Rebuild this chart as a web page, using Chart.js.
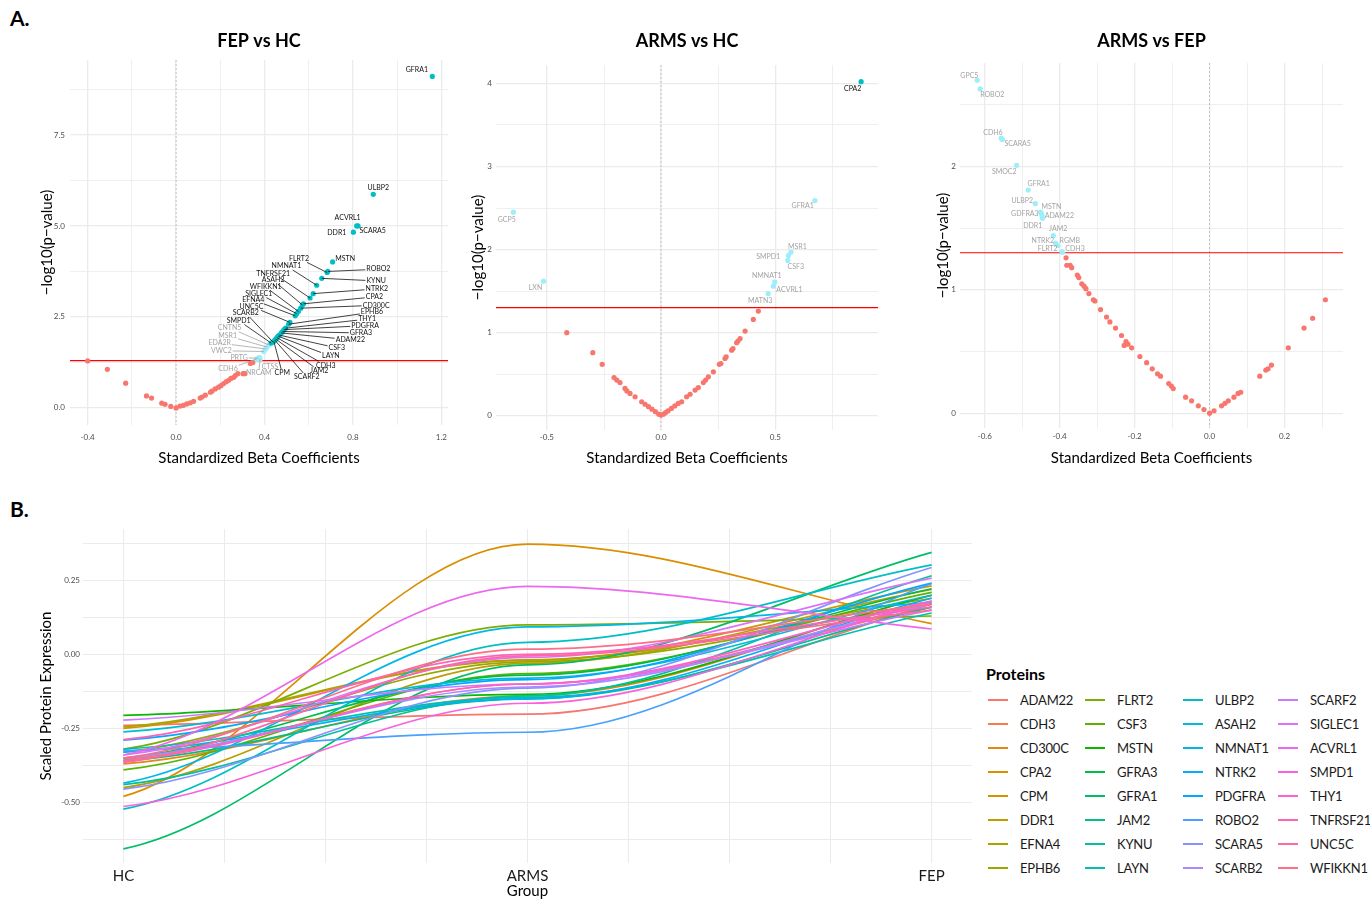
<!DOCTYPE html>
<html>
<head>
<meta charset="utf-8">
<script src="https://cdn.jsdelivr.net/npm/chart.js@4.4.1/dist/chart.umd.min.js"></script>
<style>
  body { margin: 0; background: #fff; width: 1370px; height: 900px; position: relative; overflow: hidden; font-family: Lato, sans-serif; }
  canvas { position: absolute; }
  .tag { position: absolute; font: bold 21px Lato, sans-serif; color: #000; }
  #legend { position: absolute; left: 985px; top: 662px; }
  #legend h4 { margin: 0 0 0 1px; font: bold 16px Lato, sans-serif; height: 26px; line-height: 24px; }
  #items { display: grid; grid-auto-flow: column; grid-template-rows: repeat(8, 24px); grid-template-columns: 97px 98px 95px 92px; }
  .it { display: flex; align-items: center; font: 13px Lato, sans-serif; letter-spacing: -0.2px; color: #1a1a1a; white-space: nowrap; }
  .sw { flex-shrink: 0; width: 20px; height: 2px; margin: 0 12px 0 3px; }
</style>
</head>
<body>
<div class="tag" style="left:10px;top:5px">A.</div>
<div class="tag" style="left:10px;top:496px">B.</div>
<canvas id="fepHc" width="460" height="475" style="left:0;top:0"></canvas>
<canvas id="armsHc" width="460" height="475" style="left:460px;top:0"></canvas>
<canvas id="armsFep" width="450" height="475" style="left:920px;top:0"></canvas>
<canvas id="traj" width="985" height="410" style="left:0;top:490px"></canvas>
<div id="legend"><h4>Proteins</h4><div id="items"></div></div>
<script>
// ---------- FEP vs HC ----------
const fepHcSigNames = ['GFRA1','ULBP2','ACVRL1','SCARA5','DDR1','MSTN','FLRT2','ROBO2','KYNU','NMNAT1','NTRK2','TNFRSF21',
  'CPA2','ASAH2','CD300C','WFIKKN1','SIGLEC1','EFNA4','UNC5C','EPHB6','THY1','PDGFRA','GFRA3','ADAM22','CSF3','LAYN',
  'CDH3','JAM2','SCARF2','CPM','SCARB2','SMPD1'];
const fepHcSigBeta = [1.159,0.892,0.817,0.823,0.802,0.708,0.683,0.686,0.659,0.636,0.620,0.606,
  0.576,0.571,0.564,0.553,0.545,0.539,0.515,0.509,0.495,0.488,0.482,0.476,0.467,0.462,
  0.456,0.451,0.447,0.442,0.438,0.430];
const fepHcSigP = [9.11,5.87,5.00,5.00,4.83,4.01,3.72,3.75,3.56,3.37,3.14,3.02,
  2.86,2.83,2.74,2.65,2.59,2.53,2.35,2.30,2.19,2.15,2.10,2.06,2.00,1.97,
  1.93,1.89,1.86,1.83,1.81,1.78];
const fepHcSigLabX = [1.089,0.915,0.776,0.889,0.727,0.765,0.556,0.915,0.905,0.499,0.908,0.439,
  0.897,0.439,0.905,0.405,0.374,0.349,0.341,0.886,0.864,0.855,0.836,0.788,0.727,0.700,
  0.677,0.647,0.591,0.480,0.315,0.283];
const fepHcSigLabY = [9.28,6.04,5.23,4.87,4.80,4.11,4.11,3.81,3.49,3.90,3.27,3.70,
  3.05,3.51,2.82,3.32,3.14,2.97,2.79,2.63,2.44,2.26,2.06,1.87,1.65,1.42,
  1.17,1.02,0.85,0.96,2.61,2.40];
const fepHcNomNames = ['CNTN5','MSR1','EDA2R','VWC2','PRTG','CTSS','NRCAM','CDH6'];
const fepHcNomBeta = [0.419,0.412,0.405,0.397,0.373,0.377,0.380,0.364];
const fepHcNomP = [1.73,1.67,1.62,1.55,1.37,1.39,1.34,1.34];
const fepHcNomLabX = [0.242,0.233,0.197,0.205,0.285,0.424,0.374,0.235];
const fepHcNomLabY = [2.20,1.98,1.78,1.57,1.37,1.14,0.96,1.07];
const fepHcNsBeta = [-0.400,-0.311,-0.228,-0.134,-0.111,-0.065,-0.050,-0.024,0.000,
  0.018,0.033,0.048,0.064,0.079,0.109,0.117,0.132,0.155,0.162,0.177,0.192,0.203,0.215,
  0.227,0.238,0.248,0.261,0.268,0.279,0.303,0.311,0.336,0.347];
const fepHcNsP = [1.29,1.06,0.68,0.33,0.27,0.13,0.10,0.04,0.00,
  0.05,0.07,0.11,0.14,0.18,0.27,0.30,0.35,0.43,0.46,0.52,0.57,0.61,0.67,
  0.72,0.76,0.81,0.84,0.89,0.94,0.94,0.94,1.22,1.25];

// ---------- ARMS vs HC ----------
const armsHcSigNames = ['CPA2'];
const armsHcSigBeta = [0.876];
const armsHcSigP = [4.02];
const armsHcSigLabX = [0.839];
const armsHcSigLabY = [3.93];
const armsHcNomNames = ['GFRA1','GCP5','LXN','MSR1','SMPD1','CSF3','NMNAT1','ACVRL1','MATN3'];
const armsHcNomBeta = [0.674,-0.647,-0.515,0.569,0.558,0.555,0.498,0.492,0.469];
const armsHcNomP = [2.59,2.45,1.62,1.97,1.93,1.87,1.61,1.56,1.47];
const armsHcNomLabX = [0.620,-0.676,-0.550,0.597,0.469,0.590,0.463,0.562,0.434];
const armsHcNomLabY = [2.53,2.36,1.54,2.04,1.91,1.79,1.69,1.52,1.38];
const armsHcNsBeta = [-0.413,-0.299,-0.258,-0.206,-0.194,-0.180,-0.158,-0.150,-0.136,-0.114,-0.085,-0.070,
  -0.055,-0.040,-0.025,-0.010,0.000,0.010,0.020,0.030,0.045,0.060,0.075,0.090,0.112,0.127,0.149,0.163,
  0.185,0.195,0.207,0.229,0.255,0.262,0.280,0.285,0.309,0.315,0.331,0.337,0.346,0.368,0.404,0.426];
const armsHcNsP = [1.00,0.76,0.62,0.46,0.43,0.40,0.33,0.30,0.27,0.23,0.17,0.14,
  0.11,0.08,0.05,0.02,0.01,0.02,0.04,0.06,0.09,0.12,0.15,0.17,0.23,0.26,0.31,0.34,
  0.40,0.43,0.47,0.53,0.62,0.63,0.69,0.71,0.79,0.81,0.88,0.90,0.93,1.02,1.16,1.26];

// ---------- ARMS vs FEP ----------
const armsFepNomNames = ['GPC5','ROBO2','CDH6','SCARA5','SMOC2','GFRA1','ULBP2','MSTN','GDFRA3','ADAM22',
  'DDR1','JAM2','NTRK2','RGMB','FLRT2','CDH3'];
const armsFepNomBeta = [-0.620,-0.612,-0.556,-0.553,-0.515,-0.484,-0.465,-0.451,-0.449,-0.446,
  -0.447,-0.417,-0.411,-0.405,-0.394,-0.392];
const armsFepNomP = [2.70,2.63,2.23,2.22,2.01,1.81,1.70,1.63,1.62,1.58,
  1.60,1.44,1.38,1.36,1.31,1.305];
const armsFepNomLabX = [-0.641,-0.580,-0.578,-0.512,-0.548,-0.456,-0.500,-0.422,-0.493,-0.401,
  -0.472,-0.404,-0.445,-0.373,-0.432,-0.359];
const armsFepNomLabY = [2.735,2.586,2.278,2.186,1.962,1.857,1.724,1.676,1.614,1.605,
  1.519,1.492,1.395,1.395,1.330,1.330];
const armsFepNsBeta = [-0.383,-0.381,-0.372,-0.368,-0.353,-0.349,-0.341,-0.335,-0.330,-0.322,-0.310,-0.306,
  -0.291,-0.275,-0.266,-0.251,-0.235,-0.228,-0.223,-0.218,-0.208,-0.186,-0.168,-0.153,-0.139,-0.131,
  -0.109,-0.102,-0.097,-0.064,-0.048,-0.030,-0.015,0.000,0.012,0.032,0.041,0.050,0.065,0.076,0.083,
  0.134,0.150,0.156,0.165,0.210,0.252,0.275,0.309];
const armsFepNsP = [1.26,1.20,1.20,1.18,1.12,1.10,1.05,1.03,1.01,0.97,0.92,0.91,
  0.84,0.78,0.74,0.69,0.63,0.55,0.58,0.56,0.53,0.46,0.41,0.36,0.32,0.30,
  0.24,0.22,0.20,0.13,0.10,0.06,0.03,0.00,0.02,0.06,0.08,0.10,0.13,0.16,0.17,
  0.30,0.35,0.36,0.39,0.53,0.69,0.77,0.92];

// ---------- trajectories ----------
const groups = ['HC', 'ARMS', 'FEP'];
const proteins = ['ADAM22','CDH3','CD300C','CPA2','CPM','DDR1','EFNA4','EPHB6','FLRT2','CSF3','MSTN','GFRA3',
  'GFRA1','JAM2','KYNU','LAYN','ULBP2','ASAH2','NMNAT1','NTRK2','PDGFRA','ROBO2','SCARA5','SCARB2',
  'SCARF2','SIGLEC1','ACVRL1','SMPD1','THY1','TNFRSF21','UNC5C','WFIKKN1'];
const hcExpr = [-0.240,-0.355,-0.370,-0.480,-0.250,-0.450,-0.245,-0.330,-0.320,-0.390,-0.206,-0.350,
  -0.657,-0.360,-0.440,-0.320,-0.523,-0.262,-0.435,-0.330,-0.290,-0.325,-0.455,-0.350,
  -0.222,-0.340,-0.340,-0.514,-0.360,-0.288,-0.365,-0.350];
const armsExpr = [-0.202,-0.100,-0.140,0.373,-0.020,-0.030,-0.018,-0.025,0.100,-0.065,-0.135,-0.070,
  -0.035,-0.150,-0.140,-0.145,0.041,-0.080,0.093,-0.150,-0.085,-0.263,-0.114,-0.110,
  -0.100,-0.010,0.230,-0.165,-0.100,0.000,-0.005,0.018];
const fepExpr = [0.170,0.160,0.200,0.104,0.232,0.220,0.190,0.170,0.130,0.210,0.200,0.222,
  0.345,0.160,0.266,0.140,0.303,0.200,0.175,0.190,0.241,0.240,0.294,0.170,
  0.150,0.258,0.086,0.180,0.180,0.160,0.150,0.170];

// ---------- axis ticks ----------
const fepHcXTicks = [-0.4,-0.2,0,0.2,0.4,0.6,0.8,1.0,1.2];
const fepHcXLabels = ['-0.4','','0.0','','0.4','','0.8','','1.2'];
const fepHcYTicks = [0,1.25,2.5,3.75,5,6.25,7.5,8.75];
const fepHcYLabels = ['0.0','','2.5','','5.0','','7.5',''];
const armsHcXTicks = [-0.5,-0.25,0,0.25,0.5,0.75];
const armsHcXLabels = ['-0.5','','0.0','','0.5',''];
const armsHcYTicks = [0,0.5,1,1.5,2,2.5,3,3.5,4];
const armsHcYLabels = ['0','','1','','2','','3','','4'];
const armsFepXTicks = [-0.6,-0.5,-0.4,-0.3,-0.2,-0.1,0,0.1,0.2,0.3];
const armsFepXLabels = ['-0.6','','-0.4','','-0.2','','0.0','','0.2',''];
const armsFepYTicks = [0,0.5,1,1.5,2,2.5];
const armsFepYLabels = ['0','','1','','2',''];
const trajXTicks = [1,1.25,1.5,1.75,2,2.25,2.5,2.75,3];
const trajYTicks = [-0.625,-0.5,-0.375,-0.25,-0.125,0,0.125,0.25,0.375];
const trajYLabels = ['','-0.50','','-0.25','','0.00','','0.25',''];

const pCut = -Math.log10(0.05);
const RED = '#F8766D', TEAL = '#00BFC4', PALE = '#9CEFFA';
const FONT = 'Lato';
// curve slope at each group, as a share of the adjacent segment's slope (smoother look)
const curveSlope = [0.45, 0, 1];

function pts(xs, ys) { return xs.map((v, i) => ({ x: v, y: ys[i] })); }

function hcl(h, c, l) {
  const hr = h * Math.PI / 180;
  const u = c * Math.cos(hr), v = c * Math.sin(hr);
  const Xn = 0.95047, Yn = 1, Zn = 1.08883;
  const un = 4 * Xn / (Xn + 15 * Yn + 3 * Zn), vn = 9 * Yn / (Xn + 15 * Yn + 3 * Zn);
  const Y = Yn * Math.pow((l + 16) / 116, 3);
  const up = u / (13 * l) + un, vp = v / (13 * l) + vn;
  const X = Y * 9 * up / (4 * vp), Z = Y * (12 - 3 * up - 20 * vp) / (4 * vp);
  const lin = [3.2404542 * X - 1.5371385 * Y - 0.4985314 * Z,
    -0.9692660 * X + 1.8760108 * Y + 0.0415560 * Z,
    0.0556434 * X - 0.2040259 * Y + 1.0572252 * Z];
  const rgb = lin.map(t => {
    t = t <= 0.0031308 ? 12.92 * t : 1.055 * Math.pow(t, 1 / 2.4) - 0.055;
    return Math.round(Math.min(1, Math.max(0, t)) * 255);
  });
  return 'rgb(' + rgb.join(',') + ')';
}

// dashed zero line, red p=0.05 line, repelled labels
const volcanoMarks = {
  id: 'volcanoMarks',
  beforeDatasetsDraw(chart) {
    const { ctx, chartArea: a, scales: { x, y } } = chart;
    ctx.save();
    const px = x.getPixelForValue(0);
    ctx.strokeStyle = '#b8b8b8';
    ctx.lineWidth = 0.8;
    ctx.setLineDash([2, 2]);
    ctx.beginPath(); ctx.moveTo(px, a.top); ctx.lineTo(px, a.bottom); ctx.stroke();
    ctx.setLineDash([]);
    const py = y.getPixelForValue(pCut);
    ctx.strokeStyle = '#ff0000';
    ctx.lineWidth = 1.2;
    ctx.beginPath(); ctx.moveTo(a.left, py); ctx.lineTo(a.right, py); ctx.stroke();
    ctx.restore();
  },
  afterDatasetsDraw(chart) {
    const { ctx, scales: { x, y } } = chart;
    ctx.save();
    ctx.font = '7px ' + FONT;
    ctx.textAlign = 'center';
    ctx.textBaseline = 'middle';
    chart.data.datasets.forEach((ds, di) => {
      if (!ds.names) return;
      const els = chart.getDatasetMeta(di).data;
      ds.names.forEach((name, i) => {
        const lx = x.getPixelForValue(ds.labX[i]);
        const ly = y.getPixelForValue(ds.labY[i]);
        const p = els[i];
        const hw = ctx.measureText(name).width / 2 + 1, hh = 4;
        const dx = p.x - lx, dy = p.y - ly;
        const t = Math.min(dx ? hw / Math.abs(dx) : Infinity, dy ? hh / Math.abs(dy) : Infinity);
        if (t < 1) {
          const ex = lx + dx * t, ey = ly + dy * t;
          if (Math.hypot(p.x - ex, p.y - ey) > 9) {
            ctx.strokeStyle = ds.labColor;
            ctx.lineWidth = 0.8;
            ctx.beginPath(); ctx.moveTo(ex, ey); ctx.lineTo(p.x, p.y); ctx.stroke();
          }
        }
        ctx.fillStyle = ds.labColor;
        ctx.fillText(name, lx, ly);
      });
    });
    ctx.restore();
  }
};

// reshape the bezier handles so the smooth lines flatten out at ARMS like the loess fits
const trajCurves = {
  id: 'trajCurves',
  beforeDatasetsDraw(chart) {
    chart.getSortedVisibleDatasetMetas().forEach(meta => {
      const P = meta.data, n = P.length;
      meta.dataset.updateControlPoints(chart.chartArea, 'x');
      P.forEach((p, i) => {
        const a = P[Math.max(0, i - 1)], b = P[Math.min(n - 1, i + 1)];
        const seg = i === 0 ? (b.y - p.y) / (b.x - p.x) : (p.y - a.y) / (p.x - a.x);
        const m = seg * curveSlope[i];
        const back = i > 0 ? (p.x - a.x) / 3 : 0;
        const fwd = i < n - 1 ? (b.x - p.x) / 3 : 0;
        p.cp1x = p.x - back; p.cp1y = p.y - m * back;
        p.cp2x = p.x + fwd; p.cp2y = p.y + m * fwd;
      });
    });
  }
};

function axis(ticks, labels, min, max, title) {
  return {
    type: 'linear', min: min, max: max,
    afterBuildTicks: s => { s.ticks = ticks.map(v => ({ value: v })); },
    ticks: { callback: (v, i) => labels[i], autoSkip: false, maxRotation: 0, color: '#4d4d4d', font: { family: FONT, size: 8 } },
    grid: { color: '#ebebeb', drawTicks: false, lineWidth: c => labels[c.index] ? 1.3 : 0.8 },
    border: { display: false },
    title: { display: true, text: title, color: '#000', font: { family: FONT, size: 15 }, padding: { top: 4, bottom: 4 } }
  };
}

function volcano(id, title, sets, xa, ya, geo) {
  const datasets = sets.map(s => ({
    data: s.data, backgroundColor: s.color, borderWidth: 0, pointRadius: 2.6, pointHoverRadius: 2.6,
    order: s.order, names: s.names, labX: s.labX, labY: s.labY, labColor: s.labColor
  }));
  xa.afterFit = s => { s.height = geo.xh; };
  xa.ticks.padding = geo.xpad;
  ya.afterFit = s => { s.width = geo.yw; };
  ya.ticks.padding = geo.ypad;
  new Chart(document.getElementById(id), {
    type: 'scatter',
    data: { datasets },
    options: {
      responsive: false, animation: false, devicePixelRatio: 1,
      layout: { padding: { left: geo.pl, right: geo.pr, top: 0, bottom: 4 } },
      scales: { x: xa, y: ya },
      plugins: {
        legend: { display: false }, tooltip: { enabled: false },
        title: { display: true, text: title, fullSize: false, color: '#000', font: { family: FONT, size: 18, weight: 'bold' },
          padding: { top: 30, bottom: geo.tb } }
      }
    },
    plugins: [volcanoMarks]
  });
}

const XT = 'Standardized Beta Coefficients', YT = '\u2212log10(p\u2212value)';

volcano('fepHc', 'FEP vs HC', [
  { data: pts(fepHcNsBeta, fepHcNsP), color: RED, order: 3 },
  { data: pts(fepHcNomBeta, fepHcNomP), color: PALE, order: 2, names: fepHcNomNames, labX: fepHcNomLabX, labY: fepHcNomLabY, labColor: '#a3a3a3' },
  { data: pts(fepHcSigBeta, fepHcSigP), color: TEAL, order: 1, names: fepHcSigNames, labX: fepHcSigLabX, labY: fepHcSigLabY, labColor: '#111' }
], axis(fepHcXTicks, fepHcXLabels, -0.48, 1.23, XT), axis(fepHcYTicks, fepHcYLabels, -0.47, 9.56, YT),
  { pl: 34, pr: 12, yw: 36, xh: 46, xpad: 8, ypad: 5, tb: 8.4 });

volcano('armsHc', 'ARMS vs HC', [
  { data: pts(armsHcNsBeta, armsHcNsP), color: RED, order: 3 },
  { data: pts(armsHcNomBeta, armsHcNomP), color: PALE, order: 2, names: armsHcNomNames, labX: armsHcNomLabX, labY: armsHcNomLabY, labColor: '#a3a3a3' },
  { data: pts(armsHcSigBeta, armsHcSigP), color: TEAL, order: 1, names: armsHcSigNames, labX: armsHcSigLabX, labY: armsHcSigLabY, labColor: '#111' }
], axis(armsHcXTicks, armsHcXLabels, -0.723, 0.95, XT), axis(armsHcYTicks, armsHcYLabels, -0.17, 4.22, YT),
  { pl: 5, pr: 42, yw: 31, xh: 41, xpad: 3, ypad: 4, tb: 13.4 });

volcano('armsFep', 'ARMS vs FEP', [
  { data: pts(armsFepNsBeta, armsFepNsP), color: RED, order: 3 },
  { data: pts(armsFepNomBeta, armsFepNomP), color: PALE, order: 2, names: armsFepNomNames, labX: armsFepNomLabX, labY: armsFepNomLabY, labColor: '#a3a3a3' }
], axis(armsFepXTicks, armsFepXLabels, -0.666, 0.356, XT), axis(armsFepYTicks, armsFepYLabels, -0.12, 2.84, YT),
  { pl: 10, pr: 27, yw: 30, xh: 43, xpad: 4, ypad: 4, tb: 11.4 });

// ---------- panel B ----------
const protColors = proteins.map((p, i) => hcl(15 + 360 * i / proteins.length, 100, 65));

const trajX = axis(trajXTicks, groups, 0.9, 3.1, 'Group');
trajX.ticks.callback = v => Number.isInteger(v) ? groups[v - 1] : '';
trajX.ticks.color = '#1a1a1a';
trajX.ticks.font = { family: FONT, size: 15 };
trajX.ticks.padding = 4;
trajX.grid.lineWidth = 1;
trajX.title.padding = { top: 0, bottom: 0 };
trajX.afterFit = s => { s.height = 37; };
const trajY = axis(trajYTicks, trajYLabels, -0.705, 0.424, 'Scaled Protein Expression');
trajY.ticks.padding = 3;
trajY.grid.lineWidth = 1;
trajY.afterFit = s => { s.width = 50; };

new Chart(document.getElementById('traj'), {
  type: 'line',
  data: {
    datasets: proteins.map((p, i) => ({
      label: p,
      data: groups.map((g, k) => ({ x: k + 1, y: [hcExpr, armsExpr, fepExpr][k][i] })),
      borderColor: protColors[i], borderWidth: 1.7, pointRadius: 0, fill: false,
      cubicInterpolationMode: 'monotone', order: -i
    }))
  },
  options: {
    responsive: false, animation: false, devicePixelRatio: 1,
    layout: { padding: { left: 33, right: 13, top: 39, bottom: 0 } },
    scales: { x: trajX, y: trajY },
    plugins: { legend: { display: false }, tooltip: { enabled: false } }
  },
  plugins: [trajCurves]
});

const items = document.getElementById('items');
proteins.forEach((p, i) => {
  const d = document.createElement('div');
  d.className = 'it';
  d.innerHTML = '<span class="sw" style="background:' + protColors[i] + '"></span>' + p;
  items.appendChild(d);
});
</script>
</body>
</html>
